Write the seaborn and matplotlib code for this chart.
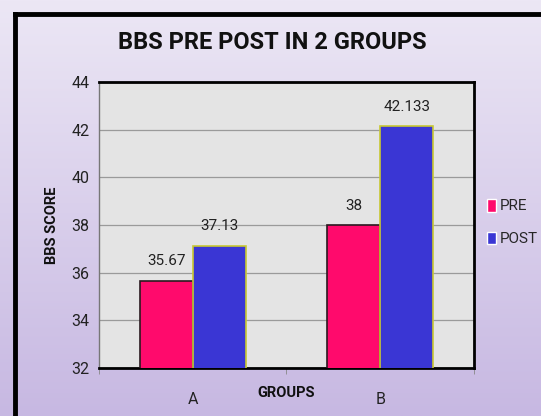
import numpy as np
import pandas as pd
import matplotlib
matplotlib.use("Agg")
import matplotlib.pyplot as plt
import seaborn as sns

# data
groups = ["A", "B"]
series = ["PRE", "POST"]
pre_scores = [35.67, 38]
post_scores = [37.13, 42.133]
value_labels = {"PRE": ["35.67", "38"], "POST": ["37.13", "42.133"]}

df = pd.DataFrame({
    "GROUPS": groups * 2,
    "Test": ["PRE"] * len(groups) + ["POST"] * len(groups),
    "BBS SCORE": pre_scores + post_scores,
})

sns.set_style("white")
plt.rcParams["font.family"] = ["Roboto", "DejaVu Sans"]

fig = plt.figure(figsize=(5.41, 4.16), dpi=100)

# lavender gradient background
bg = fig.add_axes([0, 0, 1, 1], zorder=-10)
grad = np.linspace(0, 1, 256).reshape(-1, 1)
cmap = matplotlib.colors.LinearSegmentedColormap.from_list("bg", ["#ece7f5", "#c7b8e2"])
bg.imshow(grad, aspect="auto", cmap=cmap, extent=[0, 1, 0, 1])
bg.set_xlim(0, 1)
bg.set_ylim(0, 1)
bg.axis("off")
# outer black frame (left + top)
bg.plot([0.027, 0.027], [0, 0.966], color="black", lw=3.5, solid_capstyle="projecting")
bg.plot([0.027, 1.0], [0.966, 0.966], color="black", lw=3.5, solid_capstyle="projecting")

ax = fig.add_axes([0.183, 0.115, 0.693, 0.688])
ax.set_facecolor("#e4e4e4")

palette = {"PRE": "#ff0a6c", "POST": "#3a36d4"}
sns.barplot(data=df, x="GROUPS", y="BBS SCORE", hue="Test", hue_order=series,
            palette=palette, width=0.565, errorbar=None, saturation=1,
            ax=ax, zorder=3)

# edge colours per series
for cont, name in zip(ax.containers, series):
    for p in cont:
        if name == "PRE":
            p.set_edgecolor("#2a1a20")
        else:
            p.set_edgecolor("#c8c832")
        p.set_linewidth(1.2)
    ax.bar_label(cont, labels=value_labels[name], padding=9, fontsize=11,
                 color="#222222")

ax.set_ylim(32, 44)
ax.set_xlim(-0.5, 1.5)
ax.set_yticks(range(32, 45, 2))
ax.yaxis.grid(True, color="#9a9a9a", lw=0.9, zorder=1)
ax.set_axisbelow(True)
ax.set_xticks([0, 1])
ax.set_xticklabels(groups)
ax.set_xticks([-0.5, 0.5, 1.5], minor=True)
ax.tick_params(axis="y", length=4, color="#888888", labelsize=11.5, pad=3,
               labelcolor="#222222")
ax.tick_params(axis="x", which="major", length=0, labelsize=11.5, pad=17,
               labelcolor="#222222")
ax.tick_params(axis="x", which="minor", length=4, color="#888888", bottom=True)
ax.set_xlabel("GROUPS", fontsize=10.5, fontweight="bold", labelpad=-15,
              color="#111111")
ax.set_ylabel("BBS SCORE", fontsize=10.5, fontweight="bold", labelpad=9,
              color="#111111")
for side in ["top", "right", "bottom"]:
    ax.spines[side].set_color("black")
    ax.spines[side].set_linewidth(2)
ax.spines["left"].set_color("#777777")
ax.spines["left"].set_linewidth(1)

handles, labels = ax.get_legend_handles_labels()
ax.get_legend().remove()
fig.legend(handles, labels, loc="upper left", bbox_to_anchor=(0.875, 0.555),
           frameon=False, fontsize=11, handlelength=0.6, handleheight=0.9,
           handletextpad=0.25, labelspacing=1.2)

fig.text(0.503, 0.898, "BBS PRE POST IN 2 GROUPS", ha="center", va="center",
         fontsize=17, fontweight="bold", color="#111111")

fig.savefig("out.png", dpi=100)
